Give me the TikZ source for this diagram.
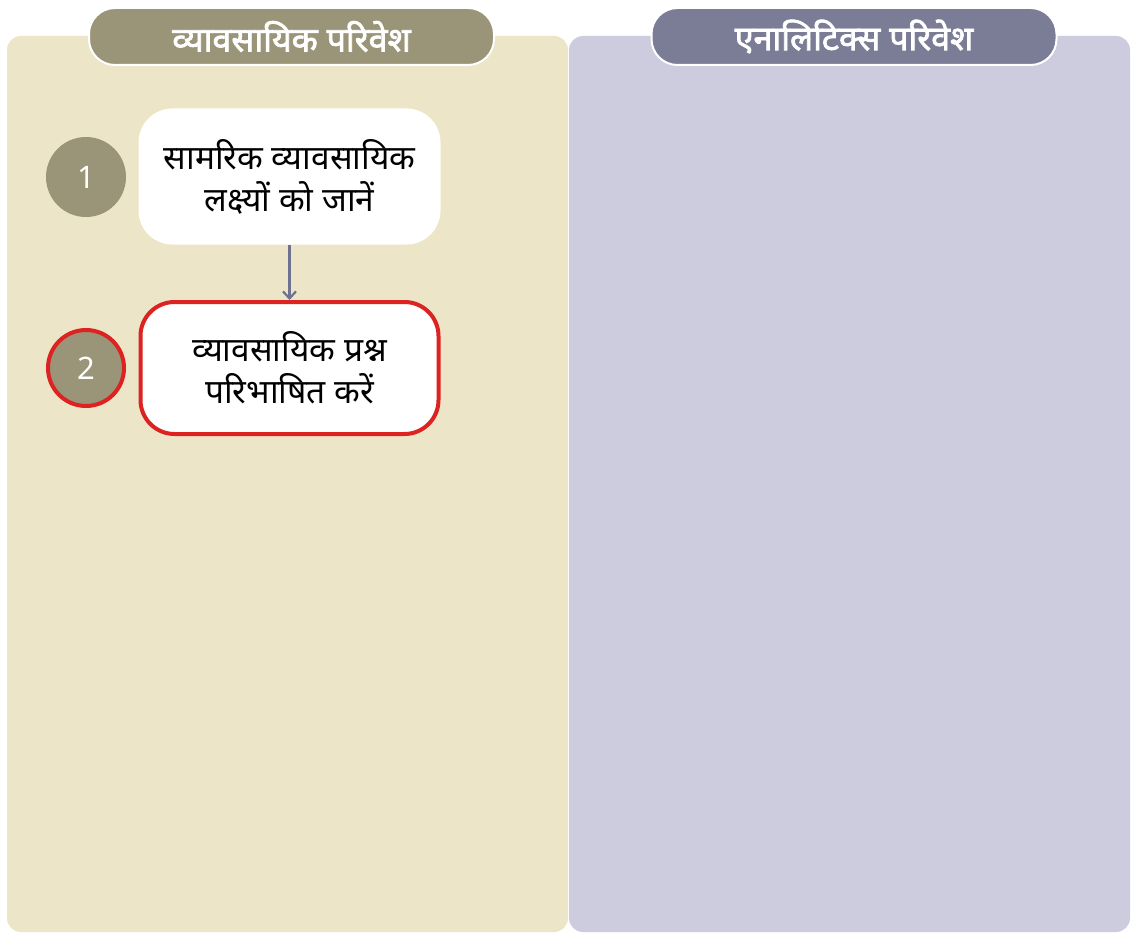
\documentclass[tikz,border=0pt]{standalone}
\usepackage{fontspec}
\setmainfont{Noto Sans}
\newfontfamily\deva[Script=Devanagari]{Noto Sans}
\newfontfamily\devab[Script=Devanagari,FakeBold=2.2]{Noto Sans}
\usetikzlibrary{arrows.meta}
\definecolor{leftbg}{HTML}{EDE5C7}
\definecolor{rightbg}{HTML}{CCCCDE}
\definecolor{olive}{HTML}{9A9478}
\definecolor{slate}{HTML}{7B7D96}
\definecolor{redline}{HTML}{DD2222}
\definecolor{arrowc}{HTML}{6E7190}
\tikzset{
  panel/.style={rounded corners=14pt, draw=none},
  tab/.style={rounded corners=26pt, draw=white, line width=2pt, minimum width=405pt, minimum height=57pt, text=white, font=\devab\fontsize{34}{40}\selectfont},
  stepbox/.style={rounded corners=34pt, fill=white, minimum width=302pt, minimum height=136pt, align=center, font=\deva\fontsize{33.5}{42}\selectfont, text=black},
  numc/.style={circle, fill=olive, minimum size=80pt, inner sep=0pt, text=white, font=\fontsize{31}{36}\selectfont},
}
\begin{document}
\begin{tikzpicture}[x=1pt,y=-1pt]
\useasboundingbox (0,0) rectangle (1136,939);
\fill[white] (0,0) rectangle (1136,939);
\fill[leftbg, panel] (7,36) rectangle (568,932);
\fill[rightbg, panel] (569,36) rectangle (1130,932);
\node[tab, fill=olive] (tabL) at (291.5,36.5) {व्यावसायिक परिवेश};
\node[tab, fill=slate] (tabR) at (854,36.5) {एनालिटिक्स परिवेश};
\node[numc] (n1) at (86,177) {1};
\node[numc, draw=redline, line width=4pt, minimum size=76pt] (n2) at (86,368) {2};
\node[stepbox] (b1) at (289.5,176.5) {सामरिक व्यावसायिक\\लक्ष्यों को जानें};
\node[stepbox, draw=redline, line width=4pt, minimum width=298pt, minimum height=132pt] (b2) at (289.5,368) {व्यावसायिक प्रश्न\\परिभाषित करें};
\draw[arrowc, line width=2.2pt, -{Straight Barb[length=7pt,width=13pt]}] (b1.south) -- (b2.north);
\end{tikzpicture}
\end{document}
